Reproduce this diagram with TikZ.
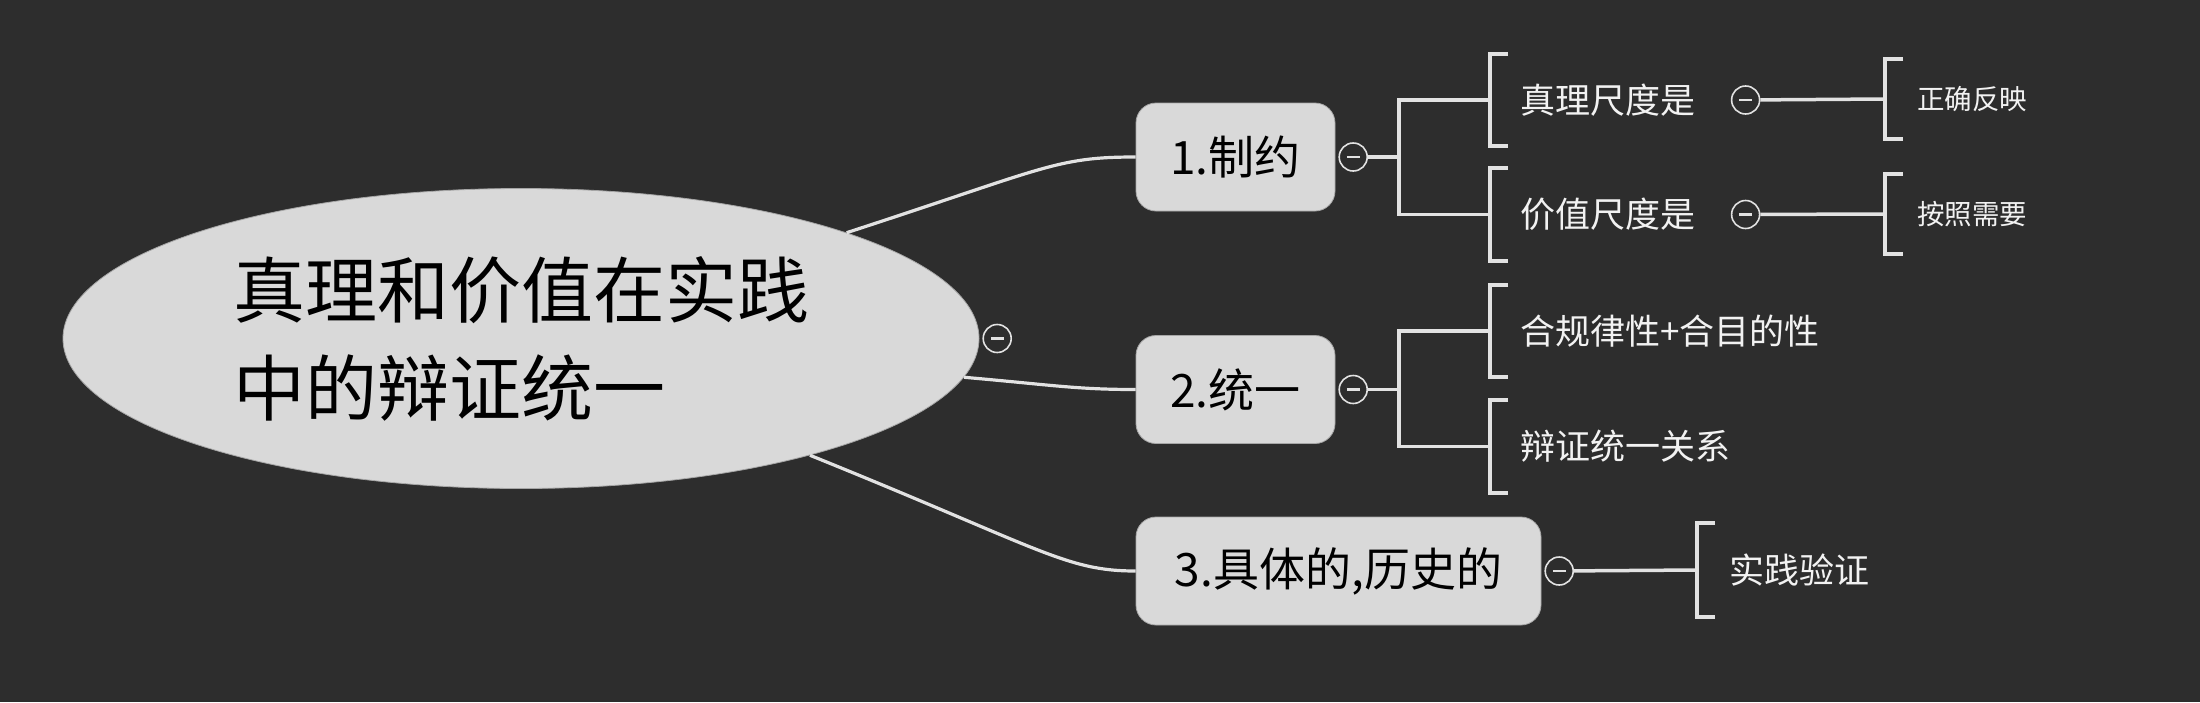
\documentclass[tikz,border=0pt]{standalone}
\usepackage{fontspec}
\setmainfont{Noto Sans CJK SC}
\usepackage{tikz}
\usetikzlibrary{
  positioning,
  shapes.geometric,
  calc
}
\definecolor{bg}{RGB}{45,45,45}
\definecolor{topic}{RGB}{217,217,217}
\definecolor{wire}{RGB}{226,226,226}

\begin{document}
\begin{tikzpicture}[x=0.5pt,y=0.5pt,
  root/.style={ellipse,fill=topic,draw=gray!70,inner sep=0pt,minimum width=458pt,minimum height=150pt,align=left,font=\fontsize{36}{49}\selectfont},
  n/.style={rectangle,rounded corners=10pt,fill=topic,draw=gray!70,minimum width=99.5pt,minimum height=54pt,font=\fontsize{23}{23}\selectfont},
  fold/.style={circle,draw=wire,fill=bg,line width=0.8pt,minimum size=14pt,inner sep=0pt,
    path picture={\draw[wire,line width=1.2pt] ([xshift=-3.2pt]path picture bounding box.center) -- ([xshift=3.2pt]path picture bounding box.center);}},
  leaf/.style={anchor=west,inner xsep=15pt,minimum height=46pt,text=white!95!black,font=\fontsize{17.5}{17.5}\selectfont},
  sub/.style={leaf,inner xsep=16pt,minimum height=40pt,font=\fontsize{13.75}{13.75}\selectfont},
  a/.style={wire,line width=1.6pt},
  br/.style={wire,line width=2pt}
]
\fill[bg] (0,0) rectangle (2200,-702);
\useasboundingbox (0,0) rectangle (2200,-702);

\node[root] (root) at (521,-338.5) {真理和价值在实践\\中的辩证统一};
\node[fold,right=1.5pt of root] (f0) {};

\node[n] (n1) at (1235.5,-157) {1.制约};
\node[n] (n2) at (1235.5,-389.5) {2.统一};
\node[n,minimum width=202.5pt] (n3) at (1338.5,-571) {3.具体的,历史的};
\node[fold,right=1.5pt of n1] (f1) {};
\node[fold,right=1.5pt of n2] (f2) {};
\node[fold,right=1.5pt of n3] (f3) {};

\draw[a] (root.18) .. controls +(18:210) and +(-80,0) .. (n1.west);
\draw[a] (root.-5) .. controls +(-5:90) and +(-60,0) .. (n2.west);
\draw[a] (root.-22) .. controls +(-22:250) and +(-70,0) .. (n3.west);

% children
\node[leaf] (t1) at (1490,-100) {真理尺度是};
\node[leaf] (t2) at (1490,-214.5) {价值尺度是};
\node[leaf] (t3) at (1490,-331) {合规律性+合目的性};
\node[leaf] (t4) at (1490,-446.5) {辩证统一关系};
\node[leaf,inner xsep=16pt,minimum height=47pt] (t5) at (1697,-570) {实践验证};
\node[fold,right=2.5pt of t1] (g1) {};
\node[fold,right=2.5pt of t2] (g2) {};
\node[sub] (s1) at (1885,-99) {正确反映};
\node[sub] (s2) at (1885,-214) {按照需要};

\coordinate (e1) at ($(f1.east)+(31,0)$);
\coordinate (e2) at ($(f2.east)+(31,0)$);
\draw[a,line width=1.75pt] (f1) -- (e1);
\draw[a,line width=1.75pt] (e1) |- (t1.west);
\draw[a,line width=1.75pt] (e1) |- (t2.west);
\draw[a,line width=1.75pt] (f2) -- (e2);
\draw[a,line width=1.75pt] (e2) |- (t3.west);
\draw[a,line width=1.75pt] (e2) |- (t4.west);
\draw[a,line width=1.75pt] (f3) -- (t5.west);
\draw[a,line width=1.75pt] (g1) -- (s1.west);
\draw[a,line width=1.75pt] (g2) -- (s2.west);

% brackets
\foreach \t in {t1,t2,t3,t4,t5,s1,s2}
  \draw[br] ([xshift=9pt]\t.north west) -| (\t.south west) -- ++(9pt,0);
\end{tikzpicture}
\end{document}
